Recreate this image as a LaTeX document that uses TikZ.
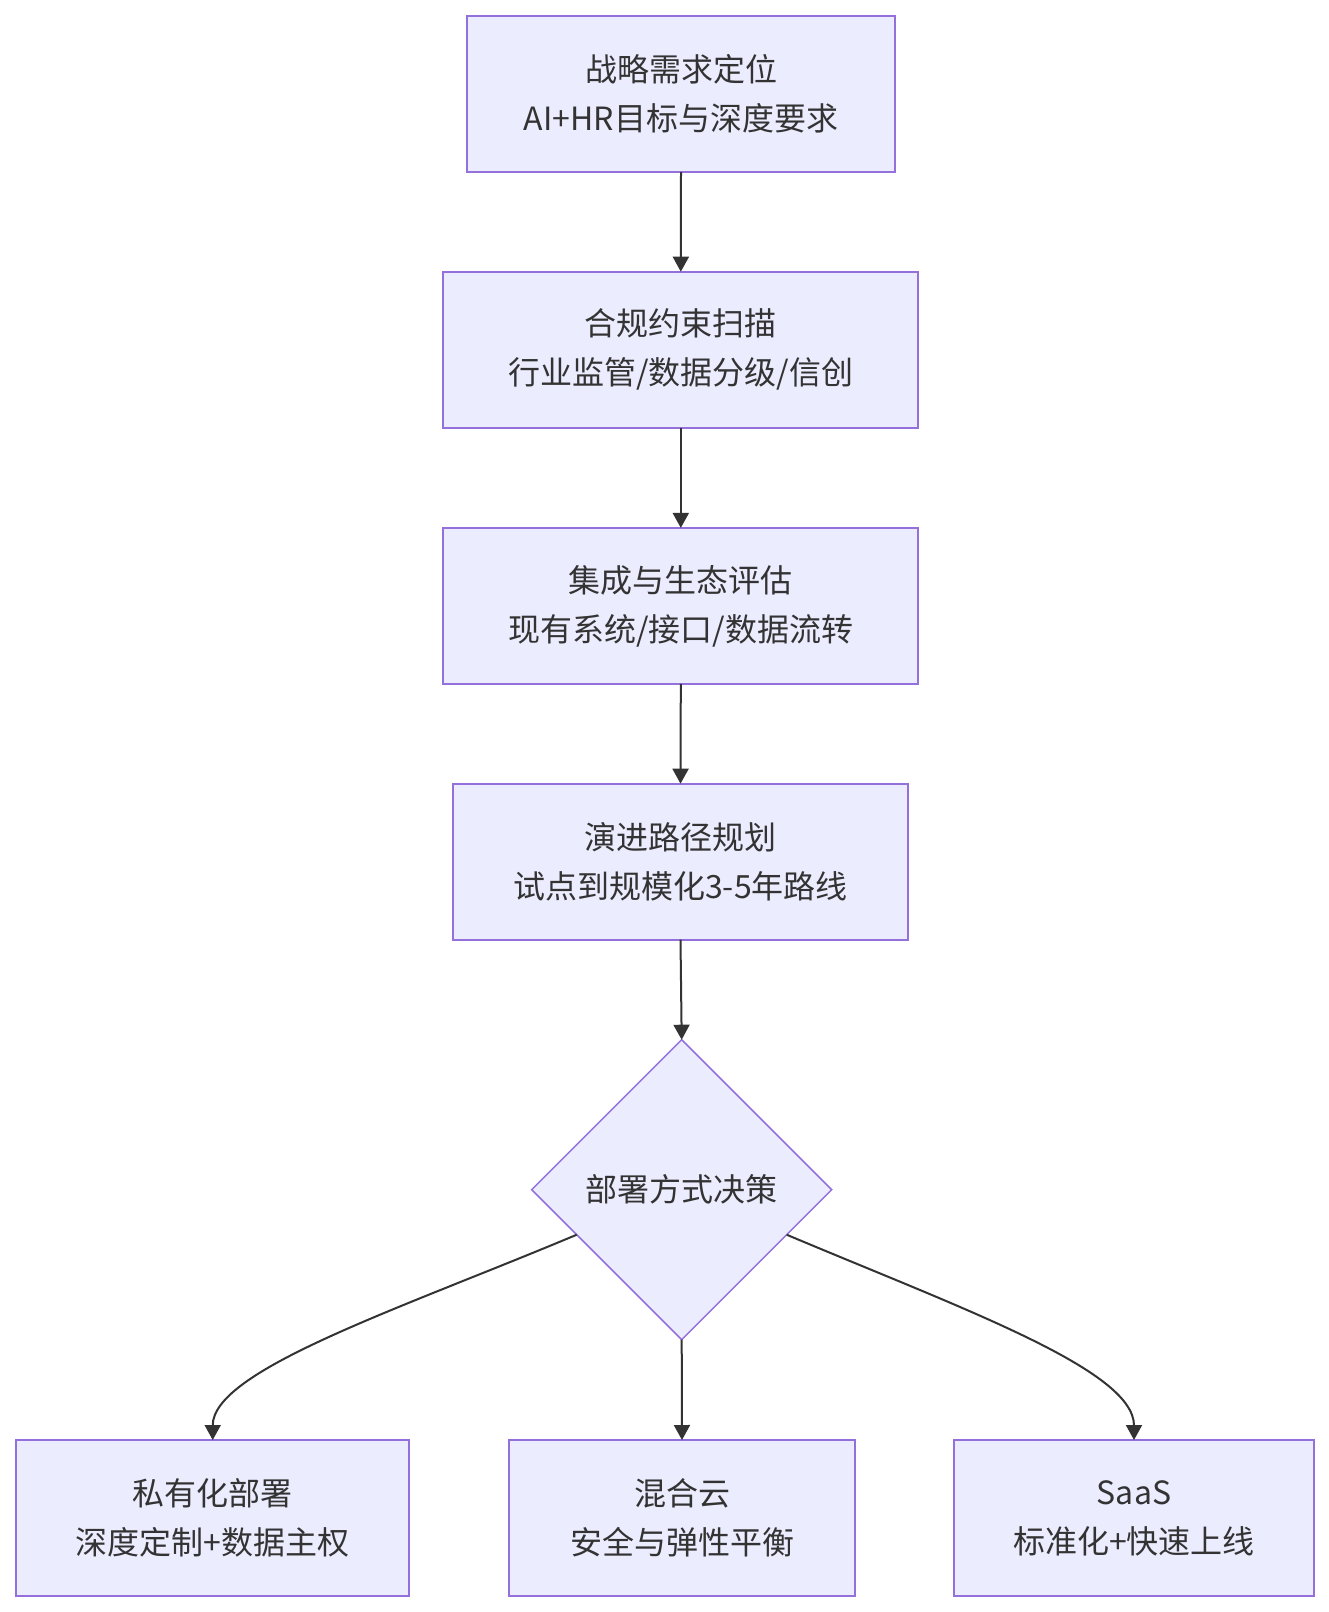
\documentclass[tikz,border=0pt]{standalone}
\usepackage{fontspec}
\newfontfamily\cjk{Noto Sans CJK SC}
\usetikzlibrary{shapes.geometric,arrows.meta,calc}
\definecolor{boxfill}{HTML}{ECECFF}
\definecolor{boxline}{HTML}{9370DB}
\definecolor{ink}{HTML}{333333}
\tikzset{
  box/.style={rectangle, draw=boxline, fill=boxfill, line width=2pt, inner sep=0pt, outer sep=0pt,
    minimum height=156pt, align=center, text=ink, font=\cjk\fontsize{32}{49}\selectfont},
  decision/.style={diamond, draw=boxline, fill=boxfill, line width=1.5pt, inner sep=0pt, outer sep=0pt,
    minimum width=300pt, minimum height=300pt, align=center, text=ink, font=\cjk\fontsize{32}{49}\selectfont},
  arr/.style={draw=ink, line width=2pt, -{Triangle[width=16pt,length=15pt]}}
}
\begin{document}
\begin{tikzpicture}[x=1pt,y=-1pt]
\useasboundingbox[fill=white] (0,0) rectangle (1329,1612);
\node[box, minimum width=428.6pt] (b1) at (681,94) {战略需求定位\\AI+HR目标与深度要求};
\node[box, minimum width=475pt] (b2) at (680.8,349.7) {合规约束扫描\\行业监管/数据分级/信创};
\node[box, minimum width=475pt] (b3) at (680.8,605.9) {集成与生态评估\\现有系统/接口/数据流转};
\node[box, minimum width=454.4pt] (b4) at (680.5,861.7) {演进路径规划\\试点到规模化3-5年路线};
\node[decision] (d) at (681.7,1189.7) {部署方式决策};
\node[box, minimum width=393.3pt] (l) at (212.7,1518) {私有化部署\\深度定制+数据主权};
\node[box, minimum width=346pt] (m) at (682,1518) {混合云\\安全与弹性平衡};
\node[box, minimum width=360pt] (r) at (1134,1518) {SaaS\\标准化+快速上线};
\draw[arr] (b1.south) -- (b2.north);
\draw[arr] (b2.south) -- (b3.north);
\draw[arr] (b3.south) -- (b4.north);
\draw[arr] (b4.south) -- (d.north);
\draw[arr] (d.south) -- (m.north);
\draw[arr] ($(d.west)!0.3!(d.south)$) .. controls (400,1309) and (212.7,1370) .. (l.north);
\draw[arr] ($(d.east)!0.3!(d.south)$) .. controls (963,1309) and (1134,1370) .. (r.north);
\end{tikzpicture}
\end{document}
